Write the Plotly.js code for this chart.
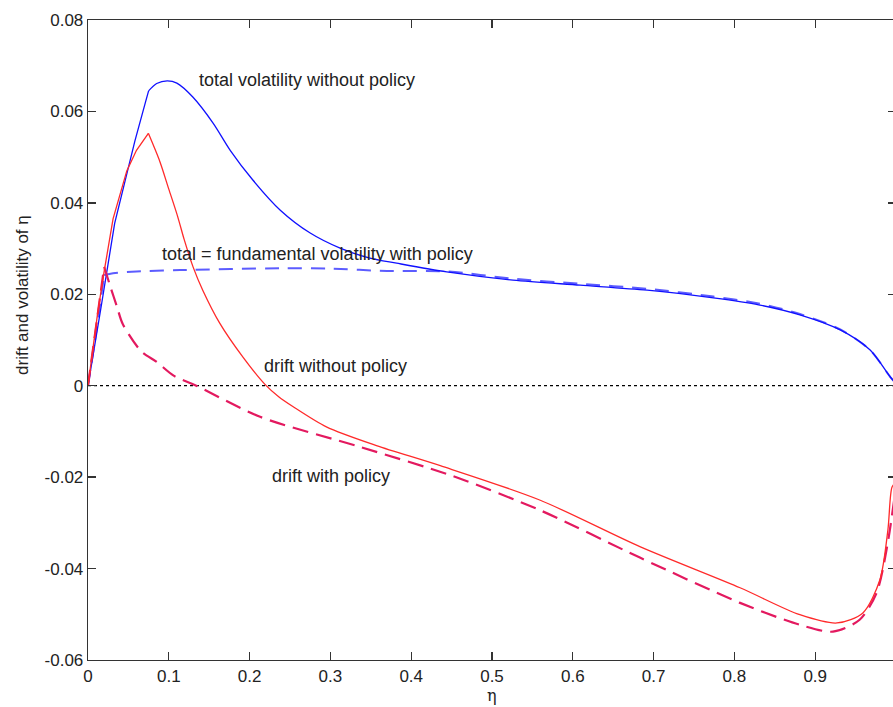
<!DOCTYPE html>
<html>
<head>
<meta charset="utf-8">
<script src="https://cdn.plot.ly/plotly-3.0.1.min.js"></script>
<style>html,body{margin:0;padding:0;overflow:hidden;background:#fff;}</style>
</head>
<body>
<div id="chart"></div>
<script>
// total volatility without policy (blue solid)
const volNoX = [0, 0.008, 0.016, 0.033, 0.048, 0.058, 0.0714, 0.075, 0.085, 0.098, 0.11, 0.13, 0.155, 0.176, 0.204, 0.238, 0.275, 0.312, 0.349, 0.382, 0.444, 0.526, 0.609, 0.692, 0.774, 0.83, 0.881, 0.931, 0.968, 0.993, 1.0];
const volNoY = [0, 0.009, 0.017, 0.0355, 0.0465, 0.0535, 0.0622, 0.0645, 0.0661, 0.0667, 0.0662, 0.0631, 0.0574, 0.0515, 0.0450, 0.0384, 0.0334, 0.0301, 0.0279, 0.0268, 0.0249, 0.0231, 0.0220, 0.0209, 0.0192, 0.0177, 0.0155, 0.0122, 0.0078, 0.0019, 0.0005];
// total = fundamental volatility with policy (blue dashed)
const volPolX = [0, 0.01, 0.02, 0.031, 0.06, 0.114, 0.238, 0.3, 0.37, 0.444, 0.526, 0.609, 0.692, 0.774, 0.83, 0.881, 0.931, 0.968, 0.993, 1.0];
const volPolY = [0, 0.0115, 0.0242, 0.0246, 0.0250, 0.0253, 0.0257, 0.0256, 0.0251, 0.0250, 0.0234, 0.0223, 0.0212, 0.0195, 0.0180, 0.0157, 0.0123, 0.0078, 0.0019, 0.0005];
// drift without policy (red solid)
const driftNoX = [0, 0.006, 0.012, 0.02, 0.031, 0.048, 0.06, 0.0747, 0.089, 0.100, 0.111, 0.119, 0.130, 0.142, 0.163, 0.192, 0.219, 0.236, 0.254, 0.295, 0.357, 0.436, 0.559, 0.683, 0.807, 0.881, 0.927, 0.959, 0.98, 0.99, 0.995, 1.0];
const driftNoY = [0, 0.008, 0.016, 0.025, 0.0365, 0.047, 0.0515, 0.0552, 0.0490, 0.0430, 0.0370, 0.0320, 0.0260, 0.0209, 0.0137, 0.0062, 0.0003, -0.0024, -0.0046, -0.0090, -0.0131, -0.0175, -0.0250, -0.0352, -0.0442, -0.0501, -0.0519, -0.0497, -0.0425, -0.0315, -0.0222, -0.021];
// drift with policy (red dashed)
const driftPolX = [0, 0.01, 0.02, 0.028, 0.036, 0.043, 0.066, 0.085, 0.106, 0.134, 0.213, 0.337, 0.452, 0.559, 0.683, 0.807, 0.881, 0.922, 0.955, 0.976, 0.989, 1.0];
const driftPolY = [0, 0.0125, 0.026, 0.0215, 0.0172, 0.0135, 0.0075, 0.0052, 0.0022, 0, -0.0068, -0.0134, -0.0198, -0.0272, -0.0376, -0.0475, -0.0523, -0.0538, -0.0512, -0.0453, -0.0352, -0.022];

// x position where each curve has its sharp corner
const volNoKink = 0.075;
const volPolKink = 0.02;
const driftNoKink = 0.0747;
const driftPolKink = 0.02;

const xTicks = [0, 0.1, 0.2, 0.3, 0.4, 0.5, 0.6, 0.7, 0.8, 0.9, 1];
const xTickText = ['0', '0.1', '0.2', '0.3', '0.4', '0.5', '0.6', '0.7', '0.8', '0.9', '1'];
const yTicks = [-0.06, -0.04, -0.02, 0, 0.02, 0.04, 0.06, 0.08];
const yTickText = ['-0.06', '-0.04', '-0.02', '0', '0.02', '0.04', '0.06', '0.08'];

const labels = [
  {text: 'total volatility without policy', x: 0.135, y: 0.0668},
  {text: 'total = fundamental volatility with policy', x: 0.089, y: 0.0288},
  {text: 'drift without policy', x: 0.215, y: 0.0043},
  {text: 'drift with policy', x: 0.225, y: -0.0197}
];

const FONT = 'Liberation Sans, Arial, sans-serif';
const TXT = '#222';

function splitTraces(xs, ys, kink, line) {
  const ax = [], ay = [], bx = [], by = [];
  xs.forEach((x, i) => {
    if (x <= kink) { ax.push(x); ay.push(ys[i]); }
    if (x >= kink) { bx.push(x); by.push(ys[i]); }
  });
  return [
    {x: ax, y: ay, mode: 'lines', line: Object.assign({shape: 'linear'}, line)},
    {x: bx, y: by, mode: 'lines', line: Object.assign({shape: 'spline', smoothing: 0.8}, line)}
  ];
}

const traces = [
  {x: [0, 1], y: [0, 0], mode: 'lines', line: {color: '#000', width: 1.3, dash: '3px,3px'}}
].concat(
  splitTraces(volPolX, volPolY, volPolKink, {color: '#5c5cff', width: 2, dash: '14px,9px'}),
  splitTraces(volNoX, volNoY, volNoKink, {color: '#1010ff', width: 1.3}),
  splitTraces(driftPolX, driftPolY, driftPolKink, {color: '#e3195f', width: 2.2, dash: '16px,8px'}),
  splitTraces(driftNoX, driftNoY, driftNoKink, {color: '#ff2a2a', width: 1.3})
);

const annotations = labels.map(l => ({
  text: l.text, x: l.x, y: l.y, xref: 'x', yref: 'y', xanchor: 'left', yanchor: 'middle',
  showarrow: false, font: {family: FONT, size: 18, color: TXT}
}));
annotations.push({
  text: 'drift and volatility of η', xref: 'paper', yref: 'paper', x: -0.082, y: 0.57,
  xanchor: 'center', yanchor: 'middle', textangle: -90, showarrow: false,
  font: {family: FONT, size: 17, color: TXT}
});
annotations.push({
  text: 'η', xref: 'paper', yref: 'paper', x: 0.5, y: -0.055,
  xanchor: 'center', yanchor: 'middle', showarrow: false,
  font: {family: 'DejaVu Serif, serif', size: 16, color: TXT}
});

const axisCommon = {
  showgrid: false, zeroline: false, showline: true, linecolor: '#333', linewidth: 1.3,
  mirror: 'ticks', ticks: 'inside', ticklen: 8, tickwidth: 1.3, tickcolor: '#333',
  tickfont: {family: FONT, size: 17, color: TXT}
};

const layout = {
  width: 897, height: 707,
  margin: {l: 88, r: 1, t: 20, b: 47},
  showlegend: false,
  paper_bgcolor: '#fff', plot_bgcolor: '#fff',
  xaxis: Object.assign({}, axisCommon, {range: [0, 1], tickvals: xTicks, ticktext: xTickText}),
  yaxis: Object.assign({}, axisCommon, {range: [-0.06, 0.08], tickvals: yTicks, ticktext: yTickText}),
  annotations: annotations
};

Plotly.newPlot('chart', traces, layout, {displayModeBar: false, staticPlot: true});
</script>
</body>
</html>
